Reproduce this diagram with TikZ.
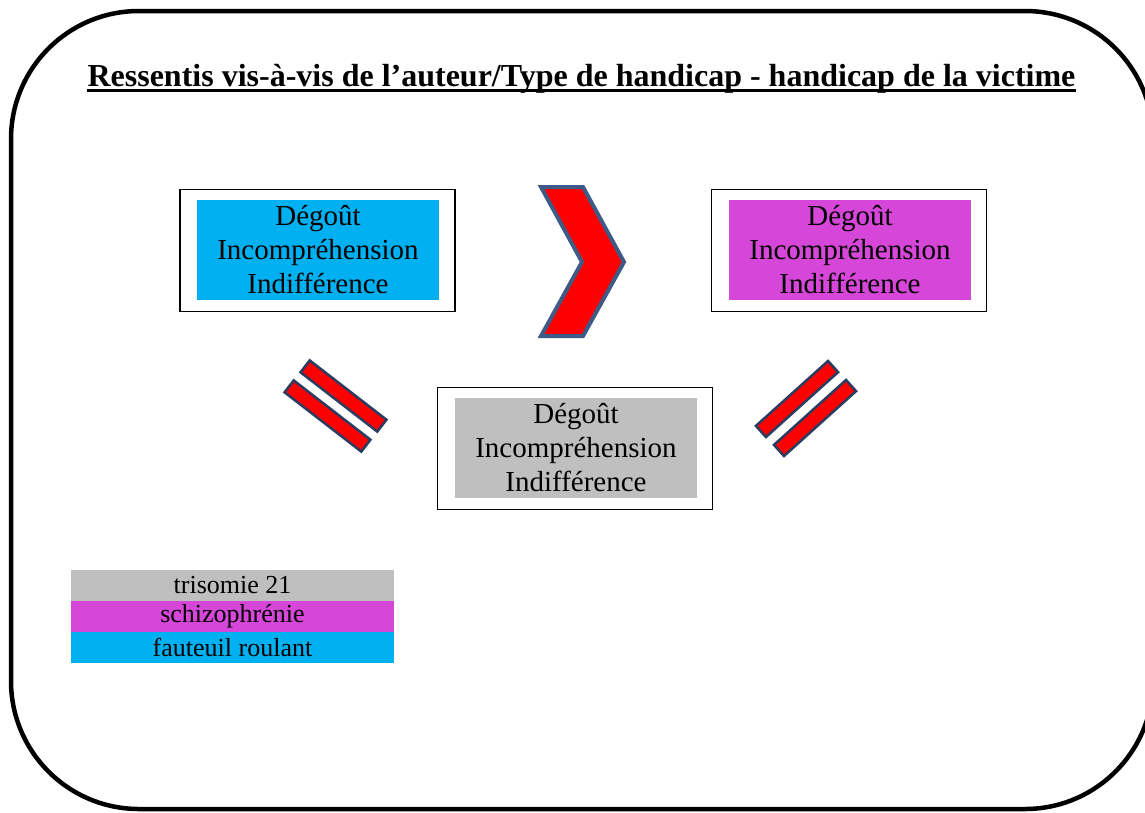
\documentclass[tikz,border=0pt]{standalone}
\usepackage{fontspec}
\setmainfont{Liberation Serif}
\usetikzlibrary{positioning}
\definecolor{hcyan}{RGB}{0,176,240}
\definecolor{hmag}{RGB}{214,70,216}
\definecolor{hgray}{RGB}{191,191,191}
\definecolor{hred}{RGB}{255,0,0}
\definecolor{hnavy}{RGB}{62,90,135}
\definecolor{hdark}{RGB}{42,60,95}
\begin{document}
\begin{tikzpicture}[x=1pt,y=-1pt,
  frame/.style={draw,line width=1.6pt,minimum width=275pt,minimum height=122pt,inner sep=0},
  feel/.style={minimum width=242pt,minimum height=100pt,inner sep=0,align=center,font=\fontsize{29}{34}\selectfont},
  bar/.style={draw=hdark,fill=hred,line width=2.5pt,minimum width=97pt,minimum height=15pt,inner sep=0},
  key/.style={minimum width=323pt,minimum height=30.7pt,inner sep=0,font=\fontsize{26}{30}\selectfont}]
  \useasboundingbox (0,0) rectangle (1145,812);
  \draw[line width=4.5pt,rounded corners=128pt] (11,11) rectangle (1153,809);
  \node[anchor=base,inner sep=0,font=\fontsize{32}{38}\selectfont\bfseries] (title) at (581.5,86) {Ressentis vis-à-vis de l’auteur/Type de handicap - handicap de la victime};
  \draw[line width=3pt] ([yshift=-4.5pt]title.base west) -- ([yshift=-4.5pt]title.base east);
  \node[frame] (wheel) at (317.5,250.5) {}; \node[feel,fill=hcyan] (wheeltxt) at (318,250) {Dégoût\\Incompréhension\\Indifférence};
  \node[frame] (schizo) at (849,250.5) {}; \node[feel,fill=hmag] (schizotxt) at (850,250) {Dégoût\\Incompréhension\\Indifférence};
  \node[frame] (trisomy) at (575,448.5) {}; \node[feel,fill=hgray] (trisomytxt) at (576,448) {Dégoût\\Incompréhension\\Indifférence};
  \draw[draw=hnavy,fill=hred,line width=4pt] (541,187) -- (583,187) -- (624,262) -- (583,336) -- (541,336) -- (582,262) -- cycle;
  \node[bar,rotate=-37.7] (eqa) at (343.5,396) {}; \node[bar,rotate=-37.7] (eqb) at (327.5,416) {};
  \node[bar,rotate=42] (eqc) at (797,399) {}; \node[bar,rotate=42] (eqd) at (815,418) {};
  \node[key,fill=hgray] (keytri) at (232.5,585.5) {trisomie 21};
  \node[key,fill=hmag,below=0pt of keytri] (keyschizo) {schizophrénie};
  \node[key,fill=hcyan,below=0pt of keyschizo] (keywheel) {fauteuil roulant};
\end{tikzpicture}
\end{document}
